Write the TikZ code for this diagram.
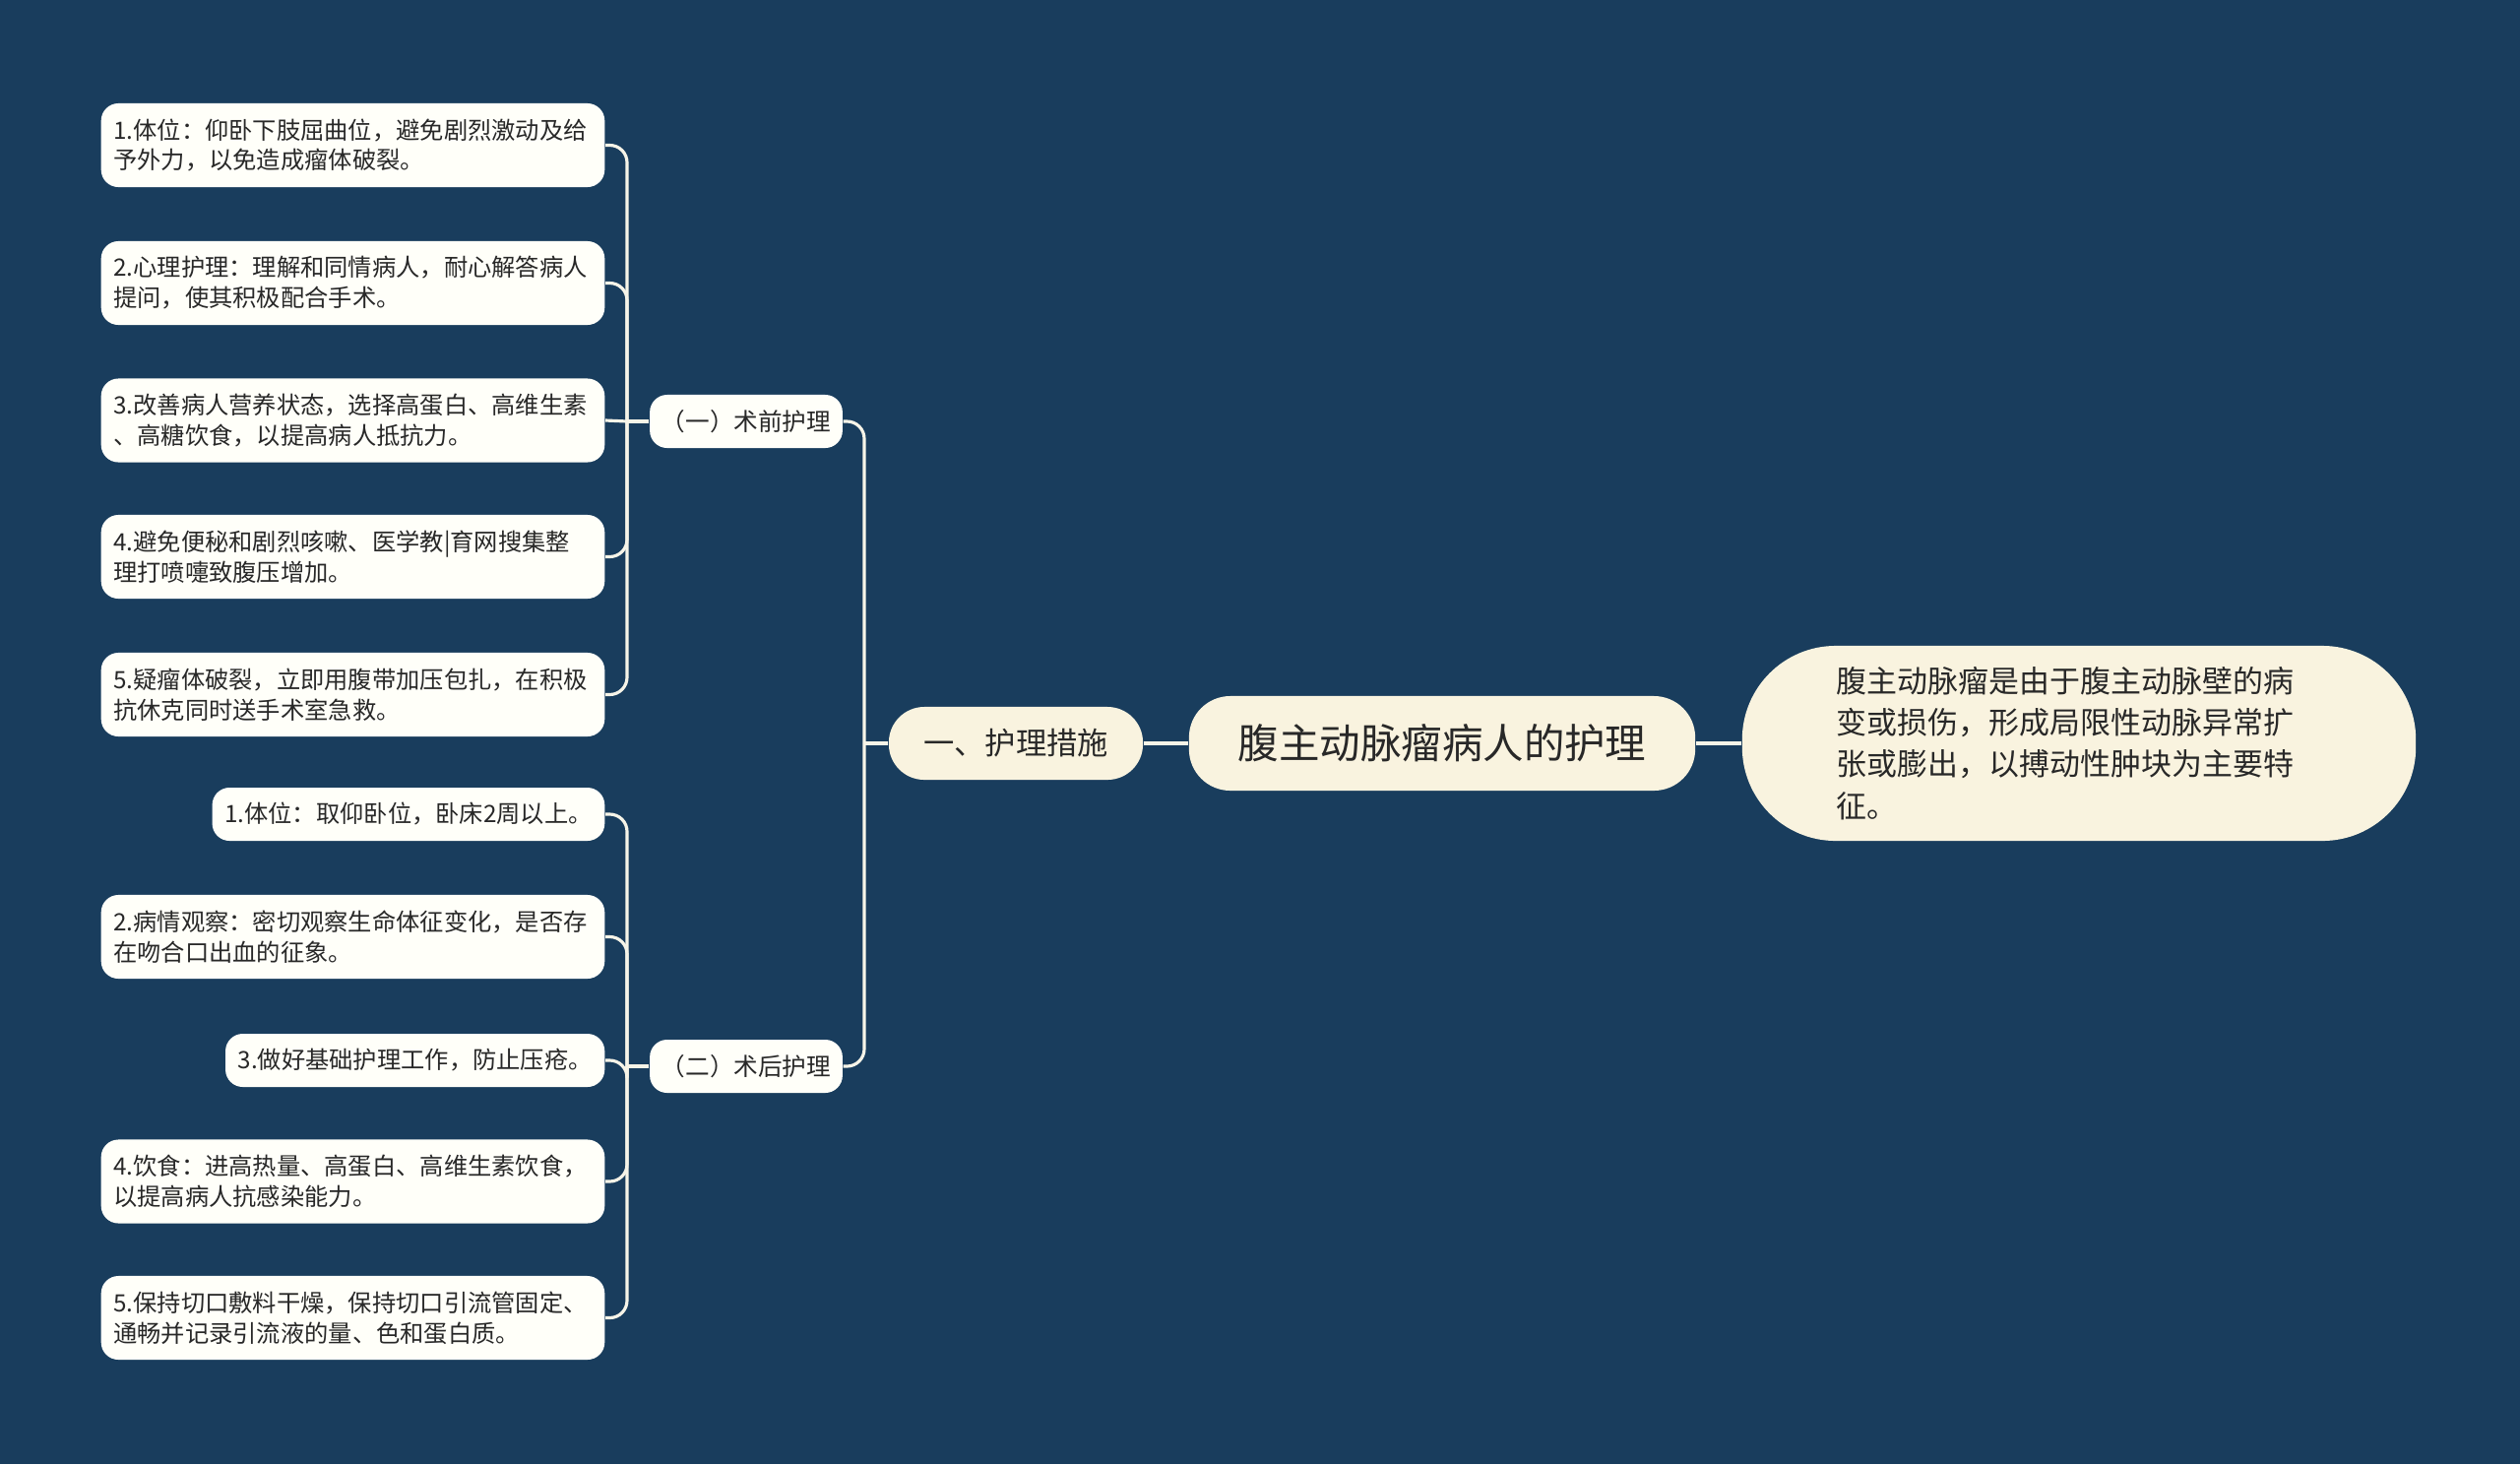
\documentclass[tikz,border=0pt]{standalone}
\usepackage{fontspec}
\setmainfont{Noto Sans CJK SC}
\usepackage{xcolor}
\usepackage{tikz}
\usetikzlibrary{positioning}

\definecolor{bgnavy}{RGB}{25,61,93}
\definecolor{leafc}{RGB}{255,255,249}
\definecolor{creamc}{RGB}{249,243,223}
\definecolor{linec}{RGB}{246,244,232}
\definecolor{txtc}{RGB}{40,40,40}

\begin{document}
\begin{tikzpicture}[
  x=0.01cm, y=-0.01cm,
  leaf/.style={fill=leafc, rounded corners=5pt, align=left, anchor=east,
    text=txtc, inner xsep=3.6pt, minimum height=0.54cm,
    font=\fontsize{6.9}{8.8}\selectfont},
  leafwide/.style={leaf, text width=4.86cm, minimum height=0.85cm},
  sub/.style={fill=leafc, rounded corners=5pt, text=txtc,
    minimum width=1.94cm, minimum height=0.54cm,
    font=\fontsize{7}{8.8}\selectfont},
  link/.style={draw=linec, line width=0.9pt, rounded corners=5pt}
]

% ── Background ──
\fill[bgnavy] (0,0) rectangle (2560,1487);
\useasboundingbox (0,0) rectangle (2560,1487);

% ── Center: root and its two neighbours ──
\node[fill=creamc, rounded corners=0.42cm, text=txtc,
  minimum width=5.14cm, minimum height=0.96cm,
  font=\fontsize{11.8}{14}\selectfont] (root) at (1465,755)
  {腹主动脉瘤病人的护理};

\node[fill=creamc, rounded corners=0.36cm, text=txtc,
  minimum width=2.58cm, minimum height=0.74cm,
  font=\fontsize{8.9}{11}\selectfont] (care) at (1032,755)
  {一、护理措施};

\node[fill=creamc, rounded corners=0.95cm, text=txtc, align=left,
  text width=4.92cm, minimum width=6.84cm, minimum height=1.98cm,
  font=\fontsize{8.8}{12}\selectfont] (desc) at (2112,755)
  {腹主动脉瘤是由于腹主动脉壁的病\\
   变或损伤，形成局限性动脉异常扩\\
   张或膨出，以搏动性肿块为主要特\\
   征。};

% ── Left: the two groups ──
\node[sub] (pre) at (758,428) {（一）术前护理};
\node[sub] (post) at (758,1083) {（二）术后护理};

% Pre-operative items
\node[leafwide] (p1) at (615,147.5)
  {1.体位：仰卧下肢屈曲位，避免剧烈激动及给\\予外力，以免造成瘤体破裂。};
\node[leafwide] (p2) at (615,287.5)
  {2.心理护理：理解和同情病人，耐心解答病人\\提问，使其积极配合手术。};
\node[leafwide] (p3) at (615,427)
  {3.改善病人营养状态，选择高蛋白、高维生素\\、高糖饮食，以提高病人抵抗力。};
\node[leafwide] (p4) at (615,565.5)
  {4.避免便秘和剧烈咳嗽、医学教|育网搜集整\\理打喷嚏致腹压增加。};
\node[leafwide] (p5) at (615,705.5)
  {5.疑瘤体破裂，立即用腹带加压包扎，在积极\\抗休克同时送手术室急救。};

% Post-operative items
\node[leaf] (q1) at (615,827) {1.体位：取仰卧位，卧床2周以上。};
\node[leafwide] (q2) at (615,951.5)
  {2.病情观察：密切观察生命体征变化，是否存\\在吻合口出血的征象。};
\node[leaf] (q3) at (615,1077) {3.做好基础护理工作，防止压疮。};
\node[leafwide] (q4) at (615,1200)
  {4.饮食：进高热量、高蛋白、高维生素饮食，\\以提高病人抗感染能力。};
\node[leafwide] (q5) at (615,1338.5)
  {5.保持切口敷料干燥，保持切口引流管固定、\\通畅并记录引流液的量、色和蛋白质。};

% ── Bus points ──
\coordinate (carebus) at (878,755);
\coordinate (prebus) at (637,428);
\coordinate (postbus) at (637,1083);

% ── Links ──

% root → neighbours
\draw[link] (root.west) -- (care.east);
\draw[link] (root.east) -- (desc.west);

% care → groups
\draw[link] (care.west) -- (carebus);
\draw[link] (carebus) |- (pre.east);
\draw[link] (carebus) |- (post.east);

% pre group → items
\draw[link] (pre.west) -- (prebus);
\draw[link] (prebus) |- (p1.east);
\draw[link] (prebus) |- (p2.east);
\draw[link] (prebus) -- (p3.east);
\draw[link] (prebus) |- (p4.east);
\draw[link] (prebus) |- (p5.east);

% post group → items
\draw[link] (post.west) -- (postbus);
\draw[link] (postbus) |- (q1.east);
\draw[link] (postbus) |- (q2.east);
\draw[link] (postbus) |- (q3.east);
\draw[link] (postbus) |- (q4.east);
\draw[link] (postbus) |- (q5.east);

\end{tikzpicture}
\end{document}
